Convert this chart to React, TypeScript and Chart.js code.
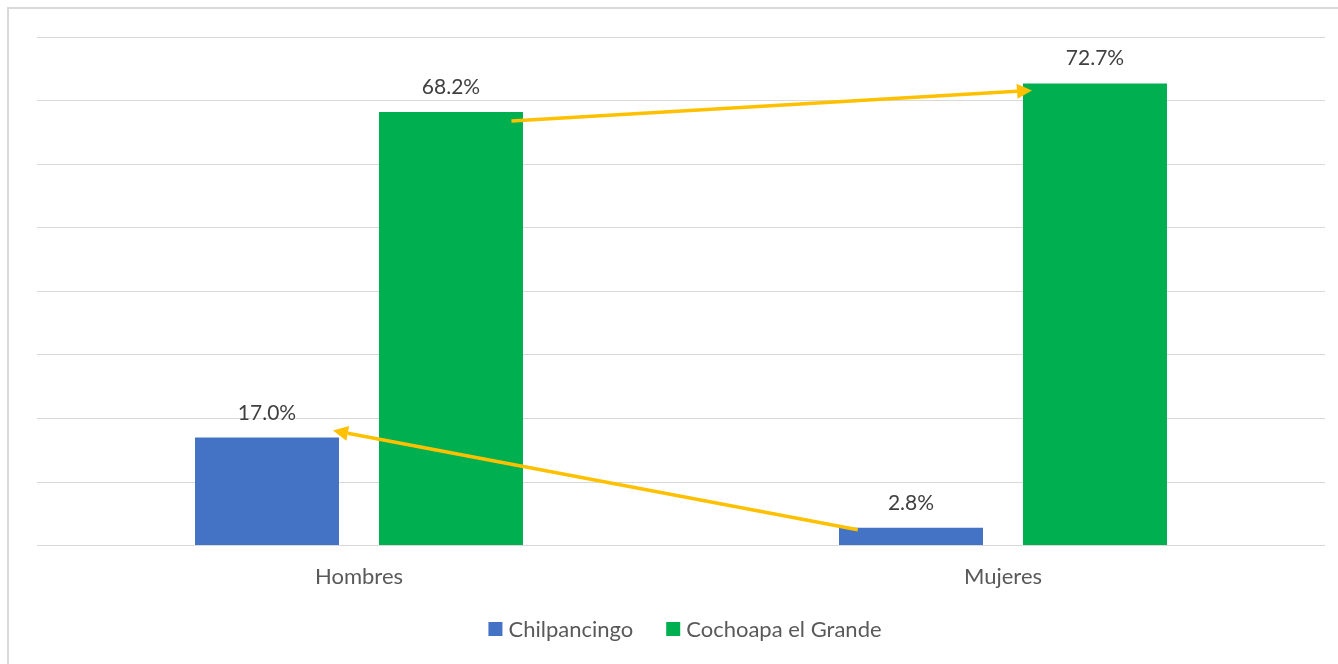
import React, { useEffect, useRef } from "react";
import { Chart, registerables } from "chart.js";
Chart.register(...registerables);

const categories = ["Hombres", "Mujeres"];
const seriesNames = ["Chilpancingo", "Cochoapa el Grande"];
const chilpancingo = [17.0, 2.8];
const cochoapa = [68.2, 72.7];
const seriesColors = ["#4472C4", "#00B050"];
const yMin = 0;
const yMax = 80;
const yStep = 10;

const FONT = "Lato, 'Open Sans', sans-serif";
const W = 1338;
const H = 664;

const bgPlugin = {
  id: "bgBorder",
  beforeDraw(chart: any) {
    const ctx = chart.ctx;
    ctx.save();
    ctx.fillStyle = "#ffffff";
    ctx.fillRect(0, 0, chart.width, chart.height);
    ctx.strokeStyle = "#d9d9d9";
    ctx.lineWidth = 2;
    ctx.strokeRect(8, 8, chart.width + 20, chart.height + 20);
    ctx.restore();
  },
};

const labelPlugin = {
  id: "valueLabels",
  afterDatasetsDraw(chart: any) {
    const ctx = chart.ctx;
    ctx.save();
    ctx.font = `21px ${FONT}`;
    ctx.fillStyle = "#404040";
    ctx.textAlign = "center";
    ctx.textBaseline = "alphabetic";
    chart.data.datasets.forEach((ds: any, di: number) => {
      const meta = chart.getDatasetMeta(di);
      meta.data.forEach((bar: any, i: number) => {
        ctx.fillText(ds.data[i].toFixed(1) + "%", bar.x, bar.y - 18);
      });
    });
    ctx.restore();
  },
};

function drawArrow(ctx: any, x1: number, y1: number, x2: number, y2: number) {
  const ang = Math.atan2(y2 - y1, x2 - x1);
  const headLen = 15;
  const headHalf = 7.5;
  const bx = x2 - headLen * Math.cos(ang);
  const by = y2 - headLen * Math.sin(ang);
  ctx.beginPath();
  ctx.moveTo(x1, y1);
  ctx.lineTo(bx, by);
  ctx.stroke();
  ctx.beginPath();
  ctx.moveTo(x2, y2);
  ctx.lineTo(bx + headHalf * Math.sin(ang), by - headHalf * Math.cos(ang));
  ctx.lineTo(bx - headHalf * Math.sin(ang), by + headHalf * Math.cos(ang));
  ctx.closePath();
  ctx.fill();
}

const arrowPlugin = {
  id: "arrows",
  afterDatasetsDraw(chart: any) {
    const ctx = chart.ctx;
    const blue = chart.getDatasetMeta(0).data;
    const green = chart.getDatasetMeta(1).data;
    ctx.save();
    ctx.strokeStyle = "#FFC000";
    ctx.fillStyle = "#FFC000";
    ctx.lineWidth = 3.5;
    ctx.lineCap = "butt";
    const gH = green[0];
    const gM = green[1];
    drawArrow(ctx, gH.x + gH.width * 0.42, gH.y + 9, gM.x - gM.width / 2 + 9, gM.y + 7);
    const bH = blue[0];
    const bM = blue[1];
    drawArrow(ctx, bM.x - bM.width * 0.37, bM.y + 2, bH.x + bH.width / 2 - 6, bH.y - 7);
    ctx.restore();
  },
};

const legendPlugin = {
  id: "customLegend",
  afterDraw(chart: any) {
    const ctx = chart.ctx;
    const area = chart.chartArea;
    ctx.save();
    ctx.font = `22px ${FONT}`;
    ctx.textBaseline = "middle";
    ctx.textAlign = "left";
    const box = 14;
    const gapText = 6;
    const gapItem = 33;
    const items = chart.data.datasets.map((ds: any) => ({
      label: ds.label,
      color: ds.backgroundColor,
      w: ctx.measureText(ds.label).width,
    }));
    let total = 0;
    items.forEach((it: any, i: number) => {
      total += box + gapText + it.w + (i < items.length - 1 ? gapItem : 0);
    });
    let x = (area.left + area.right) / 2 - total / 2 + 4;
    const cy = 629;
    items.forEach((it: any) => {
      ctx.fillStyle = it.color;
      ctx.fillRect(x, cy - box / 2, box, box);
      x += box + gapText;
      ctx.fillStyle = "#595959";
      ctx.fillText(it.label, x, cy + 1);
      x += it.w + gapItem;
    });
    ctx.restore();
  },
};

export default function App() {
  const ref = useRef<HTMLCanvasElement | null>(null);
  useEffect(() => {
    if (!ref.current) return;
    const chart = new Chart(ref.current, {
      type: "bar",
      data: {
        labels: categories,
        datasets: [
          {
            label: seriesNames[0],
            data: chilpancingo,
            backgroundColor: seriesColors[0],
            categoryPercentage: 0.5714,
            barPercentage: 0.7826,
          },
          {
            label: seriesNames[1],
            data: cochoapa,
            backgroundColor: seriesColors[1],
            categoryPercentage: 0.5714,
            barPercentage: 0.7826,
          },
        ],
      },
      options: {
        animation: false,
        responsive: false,
        devicePixelRatio: 1,
        layout: { padding: { left: 37, top: 37, right: 13, bottom: 56 } },
        plugins: {
          legend: { display: false },
          tooltip: { enabled: false },
        },
        scales: {
          x: {
            grid: { display: false, drawTicks: false },
            border: { display: false },
            ticks: { font: { family: FONT, size: 22 }, color: "#595959", padding: 18 },
          },
          y: {
            min: yMin,
            max: yMax,
            ticks: { display: false, stepSize: yStep },
            grid: { color: "#d9d9d9", lineWidth: 1, drawTicks: false },
            border: { display: false },
          },
        },
      },
      plugins: [bgPlugin, labelPlugin, arrowPlugin, legendPlugin],
    });
    return () => chart.destroy();
  }, []);
  return (
    <div style={{ position: "fixed", left: 0, top: 0, width: W, height: H, overflow: "hidden" }}>
      <canvas ref={ref} width={W} height={H} style={{ width: W, height: H, display: "block" }} />
    </div>
  );
}
